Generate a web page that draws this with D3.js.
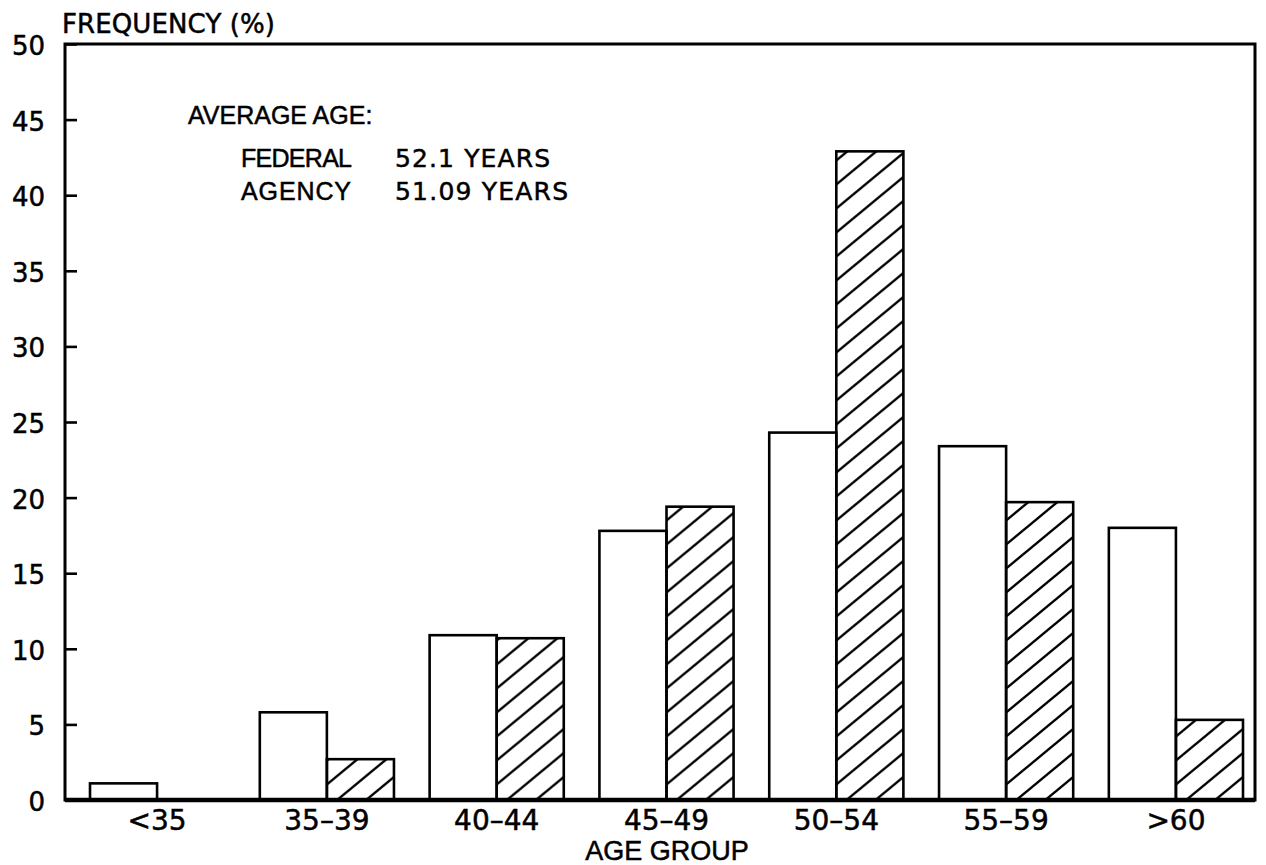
<!DOCTYPE html>
<html>
<head>
<meta charset="utf-8">
<script src="https://cdn.jsdelivr.net/npm/d3@7/dist/d3.min.js"></script>
<style>
  html, body { margin: 0; padding: 0; background: #fff; }
  svg { display: block; }
  text { stroke: #000; stroke-width: 0.5px; }
</style>
</head>
<body>
<script>
const categories = ["<35", "35–39", "40–44", "45–49", "50–54", "55–59", ">60"];
const seriesNames = ["FEDERAL", "AGENCY"];
const federal = [1.1, 5.8, 10.9, 17.8, 24.3, 23.4, 18.0];
const agency  = [0, 2.7, 10.7, 19.4, 42.9, 19.7, 5.3];
const yTicks = [0, 5, 10, 15, 20, 25, 30, 35, 40, 45, 50];
const yAxisTitle = "FREQUENCY (%)";
const xAxisTitle = "AGE GROUP";
const noteTitle = "AVERAGE AGE:";
const noteRows = [["FEDERAL", "52.1 YEARS"], ["AGENCY", "51.09 YEARS"]];

const W = 1266, H = 865;
const frame = {left: 65, top: 44, right: 1255, bottom: 800};

const svg = d3.select("body").append("svg").attr("width", W).attr("height", H);

const defs = svg.append("defs");
const pw = 29, ph = 24;
defs.append("pattern")
  .attr("id", "hatch")
  .attr("patternUnits", "userSpaceOnUse")
  .attr("width", pw).attr("height", ph)
  .append("path")
  .attr("d", `M-3,${3*ph/pw} L3,${-3*ph/pw} M0,${ph} L${pw},0 M${pw-3},${ph+3*ph/pw} L${pw+3},${ph-3*ph/pw}`)
  .attr("stroke", "#000").attr("stroke-width", 2.4).attr("fill", "none");

const y = d3.scaleLinear().domain([0, 50]).range([frame.bottom, frame.top]);
const x0 = d3.scaleBand().domain(categories).range([90, 1243]).paddingInner(0.21).paddingOuter(0);
const x1 = d3.scaleBand().domain(seriesNames).range([0, x0.bandwidth()]).padding(0);

const rows = categories.map((c, i) => ({cat: c, vals: [
  {s: "FEDERAL", v: federal[i]}, {s: "AGENCY", v: agency[i]}
]}));

// bars
const g = svg.append("g");
g.selectAll("g.grp").data(rows).join("g")
  .attr("class", "grp")
  .attr("transform", d => `translate(${x0(d.cat)},0)`)
  .selectAll("rect").data(d => d.vals.filter(e => e.v > 0)).join("rect")
  .attr("x", d => x1(d.s))
  .attr("width", x1.bandwidth())
  .attr("y", d => y(d.v))
  .attr("height", d => y(0) - y(d.v))
  .attr("fill", d => d.s === "AGENCY" ? "url(#hatch)" : "#fff")
  .attr("stroke", "#000").attr("stroke-width", 2.6);

// frame
svg.append("rect")
  .attr("x", frame.left).attr("y", frame.top)
  .attr("width", frame.right - frame.left).attr("height", frame.bottom - frame.top)
  .attr("fill", "none").attr("stroke", "#000").attr("stroke-width", 3);
svg.append("line")
  .attr("x1", frame.left).attr("x2", frame.right)
  .attr("y1", frame.bottom).attr("y2", frame.bottom)
  .attr("stroke", "#000").attr("stroke-width", 4.5);

// y axis
const yAxis = d3.axisLeft(y).tickValues(yTicks).tickSize(-12).tickSizeOuter(0).tickPadding(20);
const ya = svg.append("g").attr("transform", `translate(${frame.left},0)`).call(yAxis);
ya.select(".domain").remove();
ya.selectAll(".tick line").attr("stroke", "#000").attr("stroke-width", 2.6);
ya.selectAll(".tick text")
  .attr("font-family", "DejaVu Sans").attr("font-size", 26).attr("fill", "#000")
  .attr("dy", "0.4em");

// x axis labels
const xAxis = d3.axisBottom(x0).tickSize(0).tickPadding(0);
const xa = svg.append("g").attr("transform", `translate(0,${frame.bottom})`).call(xAxis);
xa.select(".domain").remove();
xa.selectAll(".tick text")
  .attr("font-family", "DejaVu Sans").attr("font-size", 28).attr("fill", "#000")
  .attr("dy", null).attr("y", 30);

// titles
svg.append("text").attr("x", 62).attr("y", 33)
  .attr("font-family", "DejaVu Sans").attr("font-size", 26).attr("fill", "#000")
  .attr("textLength", 213)
  .text(yAxisTitle);
svg.append("text").attr("x", 667).attr("y", 860).attr("text-anchor", "middle")
  .attr("font-family", "Liberation Sans").attr("font-size", 27).attr("fill", "#000")
  .text(xAxisTitle);

// note
const note = svg.append("g").attr("font-family", "Liberation Sans").attr("font-size", 25).attr("fill", "#000");
note.append("text").attr("x", 188).attr("y", 124).text(noteTitle);
noteRows.forEach((r, i) => {
  note.append("text").attr("x", 241).attr("y", 167 + i * 33).attr("textLength", i === 0 ? 111 : 110).text(r[0]);
  note.append("text").attr("x", 395).attr("y", 167 + i * 33)
    .attr("font-family", "DejaVu Sans").attr("font-size", 25)
    .attr("textLength", i === 0 ? 155 : 173).text(r[1]);
});
</script>
</body>
</html>
